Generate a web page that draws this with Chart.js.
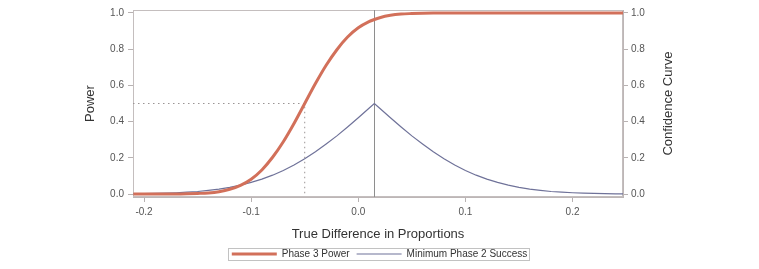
<!DOCTYPE html>
<html>
<head>
<meta charset="utf-8">
<script src="https://cdn.jsdelivr.net/npm/chart.js@4.4.1/dist/chart.umd.min.js"></script>
<style>
html, body { margin: 0; padding: 0; background: #fff; overflow: hidden; }
#wrap { width: 759px; height: 269px; }
</style>
</head>
<body>
<div id="wrap"><canvas id="powerChart"></canvas></div>
<script>
// true difference in proportions (x)
var diffs = [-0.21, -0.20, -0.19, -0.18, -0.17, -0.16, -0.15, -0.14, -0.13, -0.12, -0.11, -0.10,
             -0.09, -0.08, -0.07, -0.06, -0.05, -0.04, -0.03, -0.02, -0.01, 0.00, 0.01, 0.015,
             0.02, 0.03, 0.04, 0.05, 0.06, 0.07, 0.08, 0.09, 0.10, 0.11, 0.12, 0.13,
             0.14, 0.15, 0.16, 0.17, 0.18, 0.19, 0.20, 0.21, 0.22, 0.23, 0.24, 0.25];
var power = [0.000, 0.000, 0.000, 0.000, 0.000, 0.001, 0.003, 0.006, 0.013, 0.026, 0.048, 0.082,
             0.133, 0.203, 0.289, 0.390, 0.500, 0.610, 0.711, 0.797, 0.867, 0.918, 0.952, 0.964,
             0.974, 0.987, 0.994, 0.997, 0.999, 1.000, 1.000, 1.000, 1.000, 1.000, 1.000, 1.000,
             1.000, 1.000, 1.000, 1.000, 1.000, 1.000, 1.000, 1.000, 1.000, 1.000, 1.000, 1.000];
var confidence = [0.001, 0.002, 0.003, 0.005, 0.007, 0.010, 0.014, 0.020, 0.027, 0.037, 0.049, 0.064,
                  0.082, 0.104, 0.130, 0.160, 0.195, 0.233, 0.276, 0.321, 0.370, 0.421, 0.474, 0.500,
                  0.474, 0.421, 0.370, 0.321, 0.276, 0.233, 0.195, 0.160, 0.130, 0.104, 0.082, 0.064,
                  0.049, 0.037, 0.027, 0.020, 0.014, 0.010, 0.007, 0.005, 0.003, 0.002, 0.001, 0.001];
var xTicks = [-0.2, -0.1, 0.0, 0.1, 0.2];
var yTicks = [0.0, 0.2, 0.4, 0.6, 0.8, 1.0];

var observedDiff = 0.015;   // vertical reference line
var targetPower = 0.5;      // dotted guide
var targetDiff = -0.05;

var xMin = -0.2103, xMax = 0.2471;
var yMin = -0.0165, yMax = 1.0165;

Chart.defaults.font.family = "'Liberation Sans', Arial, sans-serif";

function toPoints(xs, ys) {
     return xs.map(function (x, i) { return { x: x, y: ys[i] }; });
}

function fixTicks(list) {
     return function (scale) {
          scale.ticks = list.map(function (v) { return { value: v }; });
     };
}

var framePlugin = {
     id: 'frame',
     beforeDatasetsDraw: function (chart) {
          var ctx = chart.ctx, a = chart.chartArea;
          var x = Math.round(chart.scales.x.getPixelForValue(observedDiff)) + 0.5;
          ctx.save();
          ctx.strokeStyle = '#c4bebe';
          ctx.lineWidth = 1;
          ctx.strokeRect(a.left + 0.5, a.top + 0.5, a.width - 1, a.height - 1);
          ctx.strokeStyle = '#8e8e8e';
          ctx.beginPath();
          ctx.moveTo(x, a.top);
          ctx.lineTo(x, a.bottom);
          ctx.stroke();
          ctx.restore();
     },
     afterDraw: function (chart) {
          var ctx = chart.ctx, a = chart.chartArea;
          // right axis title, reading bottom to top like the left one
          ctx.save();
          ctx.translate(a.right + 45, (a.top + a.bottom) / 2);
          ctx.rotate(-Math.PI / 2);
          ctx.fillStyle = '#333';
          ctx.font = "13px 'Liberation Sans', Arial, sans-serif";
          ctx.textAlign = 'center';
          ctx.textBaseline = 'middle';
          ctx.fillText('Confidence Curve', 0, 0);
          ctx.restore();

          var boxes = chart.legend.legendHitBoxes;
          if (!boxes || !boxes.length) return;
          var first = boxes[0], last = boxes[boxes.length - 1];
          ctx.save();
          ctx.strokeStyle = '#c2c2c2';
          ctx.lineWidth = 1;
          ctx.strokeRect(Math.round(first.left - 4) + 0.5, Math.round(first.top - 1) + 0.5,
               Math.round(last.left + last.width - first.left + 6), Math.round(first.height + 2));
          ctx.restore();
     }
};

new Chart('powerChart', {
     type: 'line',
     data: {
          datasets: [
               {
                    label: 'Phase 3 Power',
                    data: toPoints(diffs, power),
                    yAxisID: 'y',
                    borderColor: '#d2705a',
                    backgroundColor: '#d2705a',
                    borderWidth: 3,
                    pointRadius: 0,
                    cubicInterpolationMode: 'monotone',
                    fill: false
               },
               {
                    label: 'Minimum Phase 2 Success',
                    data: toPoints(diffs, confidence),
                    yAxisID: 'y2',
                    borderColor: '#6f7299',
                    backgroundColor: '#6f7299',
                    borderWidth: 1.2,
                    pointRadius: 0,
                    tension: 0,
                    fill: false
               },
               {
                    label: 'guide',
                    data: [{ x: xMin, y: targetPower }, { x: targetDiff, y: targetPower }, { x: targetDiff, y: 0 }],
                    yAxisID: 'y',
                    borderColor: '#9a9494',
                    borderWidth: 1,
                    borderDash: [1.5, 3.5],
                    pointRadius: 0,
                    tension: 0,
                    fill: false
               }
          ]
     },
     options: {
          responsive: true,
          maintainAspectRatio: false,
          animation: false,
          events: [],
          layout: { padding: { top: 10, left: 0, right: 0, bottom: 0 } },
          plugins: {
               tooltip: { enabled: false },
               legend: {
                    display: true,
                    position: 'bottom',
                    labels: {
                         boxWidth: 45,
                         boxHeight: 0,
                         padding: 7,
                         color: '#333',
                         font: { size: 10 },
                         filter: function (item) { return item.datasetIndex < 2; }
                    }
               }
          },
          scales: {
               x: {
                    type: 'linear',
                    min: xMin,
                    max: xMax,
                    afterBuildTicks: fixTicks(xTicks),
                    afterFit: function (s) { s.height = 45; },
                    ticks: {
                         color: '#555',
                         font: { size: 10 },
                         padding: 4,
                         maxRotation: 0,
                         callback: function (v) { return v.toFixed(1); }
                    },
                    grid: { drawOnChartArea: false, tickLength: 5, color: '#b8b2b2' },
                    border: { color: '#bdb6b6' },
                    title: {
                         display: true,
                         text: 'True Difference in Proportions',
                         color: '#333',
                         font: { size: 13 },
                         padding: { top: 0, bottom: 0 }
                    }
               },
               y: {
                    position: 'left',
                    min: yMin,
                    max: yMax,
                    afterBuildTicks: fixTicks(yTicks),
                    afterFit: function (s) { s.width = 133; },
                    ticks: {
                         color: '#555',
                         font: { size: 10 },
                         padding: 4,
                         callback: function (v) { return v.toFixed(1); }
                    },
                    grid: { drawOnChartArea: false, tickLength: 5, color: '#b8b2b2' },
                    border: { color: '#bdb6b6' },
                    title: {
                         display: true,
                         text: 'Power',
                         color: '#333',
                         font: { size: 13 },
                         padding: { top: 83, bottom: 0 }
                    }
               },
               y2: {
                    position: 'right',
                    min: yMin,
                    max: yMax,
                    afterBuildTicks: fixTicks(yTicks),
                    afterFit: function (s) { s.width = 136; },
                    ticks: {
                         color: '#555',
                         font: { size: 10 },
                         padding: 3,
                         callback: function (v) { return v.toFixed(1); }
                    },
                    grid: { drawOnChartArea: false, tickLength: 5, color: '#b8b2b2' },
                    border: { color: '#bdb6b6' },
                    title: { display: false }
               }
          }
     },
     plugins: [framePlugin]
});
</script>
</body>
</html>
